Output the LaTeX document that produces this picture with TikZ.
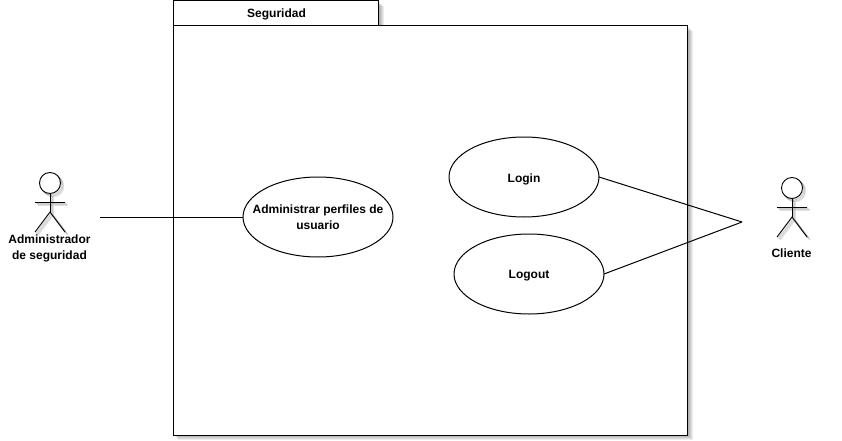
\documentclass[tikz,border=0pt]{standalone}
\usepackage{fontspec}
\setmainfont{Liberation Sans}
\tikzset{
  lbl/.style={font=\fontsize{12}{16}\selectfont\bfseries, align=center, inner sep=0pt, text=black},
  ucase/.style={ellipse, draw=black, line width=1pt, fill=white, minimum width=150pt, minimum height=80pt, inner sep=0pt, outer sep=0pt},
  pkg/.style={rectangle, draw=black, line width=1pt, fill=white, inner sep=0pt, outer sep=0pt, anchor=north west},
  conn/.style={draw=black, line width=1pt},
  limb/.style={draw=black, line width=0.9pt},
  shd/.style={fill=black, draw=none, fill opacity=0.07},
}
\usetikzlibrary{shapes.geometric}
\newcommand{\softbox}[4]{%
  \foreach \d/\e in {1/1,2/2,3/3,4/4,5/5}{\fill[shd] (#1+\d,#2+\d+1) rectangle (#3+\e,#4+\e);}%
}
\newcommand{\actor}[3]{%
  \foreach \d in {1,2,3}{%
    \begin{scope}[shift={(\d,\d)},draw opacity=0.12,fill opacity=0]
      \draw[line width=1.5pt] (#2,#3) circle (10.5);
      \draw[line width=1.5pt] (#2,#3+10.5) -- (#2,#3+29) (#2-15,#3+19) -- (#2+15,#3+19)
        (#2-15,#3+49) -- (#2,#3+29) -- (#2+15,#3+49);
    \end{scope}}%
  \node[circle, draw=black, line width=0.9pt, fill=white, minimum size=21pt, inner sep=0pt, outer sep=0pt] (#1h) at (#2,#3) {};
  \coordinate (#1n) at (#2,#3+29);
  \coordinate (#1al) at (#2-15,#3+19);
  \coordinate (#1ar) at (#2+15,#3+19);
  \coordinate (#1ll) at (#2-15,#3+49);
  \coordinate (#1lr) at (#2+15,#3+49);
  \draw[limb] (#1h.south) -- (#1n);
  \draw[limb] (#1al) -- (#1ar);
  \draw[limb] (#1ll) -- (#1n) -- (#1lr);
}
\begin{document}
\begin{tikzpicture}[x=1pt,y=-1pt]
\useasboundingbox (0,0) rectangle (842,441);
% package shadow and body
\softbox{173}{25}{688}{435}
\softbox{173}{0}{379}{25}
\node[pkg, minimum width=205.5pt, minimum height=25pt] (tab) at (173,0.5) {};
\node[lbl] (tabl) at (276.5,14) {Seguridad};
\node[pkg, minimum width=514.5pt, minimum height=410pt] (pack) at (173,25.5) {};
% use cases
\node[ucase] (adm) at (318,217) {};
\node[lbl] (adml) at (318,217) {Administrar perfiles de\\usuario};
\node[ucase] (login) at (524,177) {};
\node[lbl] (loginl) at (524,179) {Login};
\node[ucase] (logout) at (529,274) {};
\node[lbl] (logoutl) at (529,275.5) {Logout};
% actors
\actor{a}{50}{183}
\actor{c}{792}{188}
\node[lbl] (alabel) at (49.5,248) {Administrador\\de seguridad};
\node[lbl] (clabel) at (791.5,253.5) {Cliente};
% connectors
\coordinate (aend) at (100,217);
\coordinate (cend) at (742,222);
\draw[conn] (aend) -- (adm.west);
\draw[conn] (login.east) -- (cend);
\draw[conn] (logout.east) -- (cend);
\end{tikzpicture}
\end{document}
